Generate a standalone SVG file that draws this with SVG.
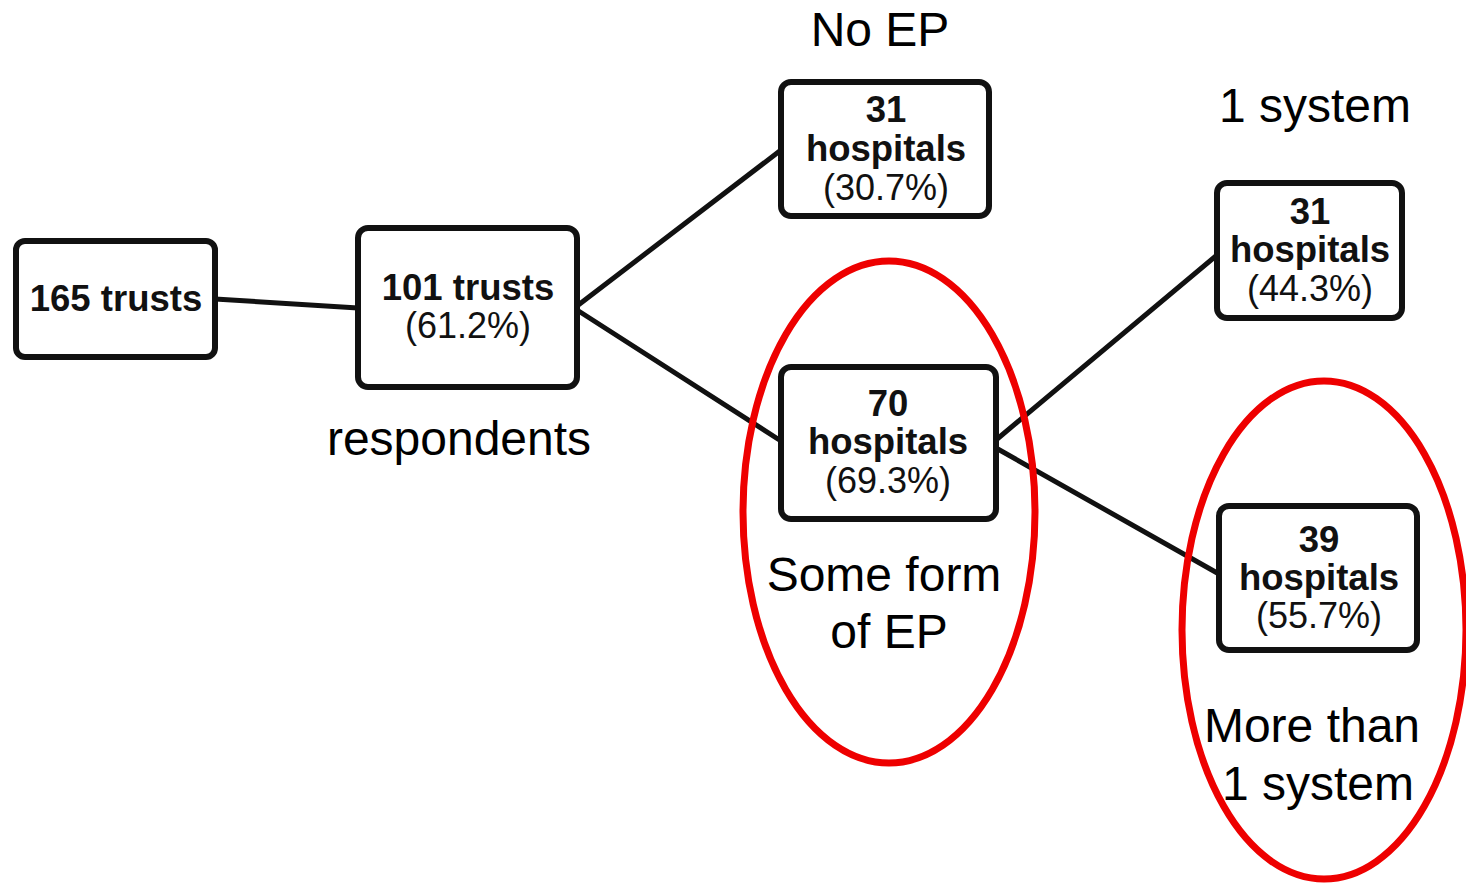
<svg xmlns="http://www.w3.org/2000/svg" width="1466" height="884" viewBox="0 0 1466 884">
  <style>
    .box { fill: #ffffff; stroke: #111111; stroke-width: 6; }
    .link { stroke: #111111; stroke-width: 5; fill: none; stroke-linecap: round; }
    .ring { fill: none; stroke: #ee0000; stroke-width: 7; }
    .b { font-family: "Liberation Sans", Arial, sans-serif; font-weight: bold; font-size: 36.5px; fill: #111111; text-anchor: middle; }
    .r { font-family: "Liberation Sans", Arial, sans-serif; font-size: 36px; fill: #111111; text-anchor: middle; }
    .lbl { font-family: "Liberation Sans", Arial, sans-serif; font-size: 48px; fill: #000000; text-anchor: middle; }
  </style>
  <rect width="1466" height="884" fill="#ffffff"/>

  <!-- connectors -->
  <g id="connectors">
    <line class="link" x1="215" y1="299" x2="358" y2="308"/>
    <line class="link" x1="577" y1="306" x2="781" y2="150"/>
    <line class="link" x1="577" y1="310" x2="781" y2="441"/>
    <line class="link" x1="996" y1="440" x2="1217" y2="255"/>
    <line class="link" x1="996" y1="448" x2="1219" y2="574"/>
  </g>

  <g id="n-165">
    <rect class="box" x="16" y="241" width="199" height="116" rx="9"/>
    <text class="b" x="116" y="311">165 trusts</text>
  </g>

  <g id="n-101">
    <rect class="box" x="358" y="228" width="219" height="159" rx="10"/>
    <text class="b" x="468" y="300">101 trusts</text>
    <text class="r" x="468" y="338">(61.2%)</text>
    <text class="lbl" x="459" y="455">respondents</text>
  </g>

  <g id="n-noep">
    <text class="lbl" x="880" y="46">No EP</text>
    <rect class="box" x="781" y="82" width="208" height="134" rx="10"/>
    <text class="b" x="886" y="122">31</text>
    <text class="b" x="886" y="161">hospitals</text>
    <text class="r" x="886" y="200">(30.7%)</text>
  </g>

  <g id="n-ep">
    <rect class="box" x="781" y="367" width="215" height="152" rx="10"/>
    <text class="b" x="888" y="416">70</text>
    <text class="b" x="888" y="454">hospitals</text>
    <text class="r" x="888" y="493">(69.3%)</text>
    <text class="lbl" x="884" y="591">Some form</text>
    <text class="lbl" x="889" y="648">of EP</text>
    <ellipse class="ring" cx="889" cy="512" rx="146" ry="251"/>
  </g>

  <g id="n-one">
    <text class="lbl" x="1315" y="122">1 system</text>
    <rect class="box" x="1217" y="183" width="185" height="135" rx="10"/>
    <text class="b" x="1310" y="224">31</text>
    <text class="b" x="1310" y="262">hospitals</text>
    <text class="r" x="1310" y="301">(44.3%)</text>
  </g>

  <g id="n-multi">
    <rect class="box" x="1219" y="506" width="198" height="144" rx="10"/>
    <text class="b" x="1319" y="552">39</text>
    <text class="b" x="1319" y="590">hospitals</text>
    <text class="r" x="1319" y="628">(55.7%)</text>
    <text class="lbl" x="1312" y="742">More than</text>
    <text class="lbl" x="1318" y="800">1 system</text>
    <ellipse class="ring" cx="1324" cy="630" rx="142" ry="249"/>
  </g>
</svg>
